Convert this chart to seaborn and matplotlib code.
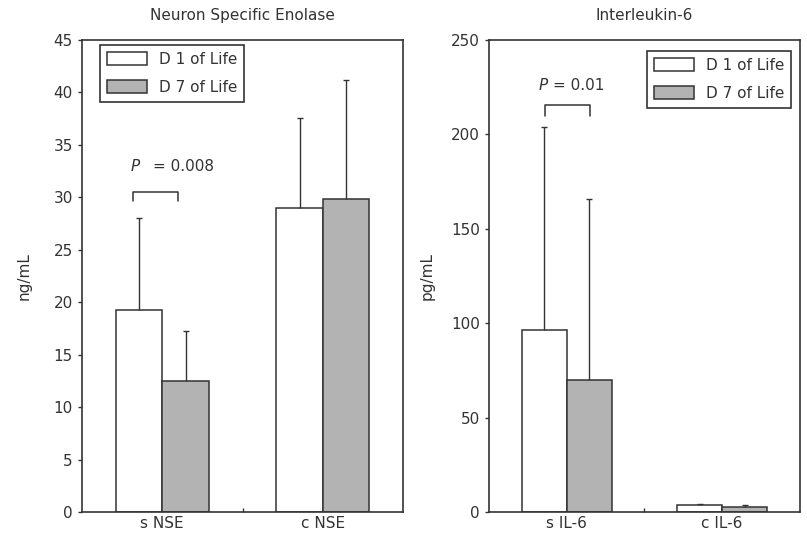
import matplotlib
matplotlib.use("Agg")
import matplotlib.pyplot as plt
import seaborn as sns
import pandas as pd

sns.set_theme(style="white")
plt.rcParams['font.family'] = ['DejaVu Sans']

days = ["D 1 of Life", "D 7 of Life"]

nse_groups = ["s NSE", "c NSE"]
nse_mean_d1 = [19.3, 29.0]
nse_mean_d7 = [12.5, 29.8]
nse_sd_d1 = [8.7, 8.6]
nse_sd_d7 = [4.8, 11.4]

il6_groups = ["s IL-6", "c IL-6"]
il6_mean_d1 = [96.5, 3.5]
il6_mean_d7 = [70.0, 2.5]
il6_sd_d1 = [107.5, 1.0]
il6_sd_d7 = [95.5, 1.2]

ink = "#333333"
gray = "#b3b3b3"
fs = 11


def make_df(groups, m1, m7):
    rows = []
    for g, a, b in zip(groups, m1, m7):
        rows.append({"marker": g, "day": days[0], "mean": a})
        rows.append({"marker": g, "day": days[1], "mean": b})
    return pd.DataFrame(rows)


def panel(ax, groups, m1, m7, s1, s7, ymax, step, title, ylabel, legend_loc, lpad):
    df = make_df(groups, m1, m7)
    sns.barplot(data=df, x="marker", y="mean", hue="day", hue_order=days,
                palette=["white", gray], edgecolor=ink, linewidth=1.1,
                width=0.58, errorbar=None, ax=ax)
    for cont, sd in zip(ax.containers, [s1, s7]):
        xs = [p.get_x() + p.get_width() / 2 for p in cont.patches]
        ys = [p.get_height() for p in cont.patches]
        eb = ax.errorbar(xs, ys, yerr=[[0] * len(sd), sd], fmt="none",
                         ecolor=ink, elinewidth=1.0, capsize=2.5, capthick=1.0)
        eb[1][0].set_visible(False)
    ax.set_xlim(-0.5, 1.5)
    ax.set_ylim(0, ymax)
    ax.set_yticks(range(0, ymax + 1, step))
    ax.set_xticks([0, 1])
    ax.set_xticks([0.5], minor=True)
    ax.tick_params(axis="x", which="major", length=0, labelsize=fs, colors=ink, pad=3)
    ax.tick_params(axis="x", which="minor", length=3, color=ink, direction="in",
                   bottom=True, width=1.0)
    ax.tick_params(axis="y", length=3, color=ink, labelsize=fs, labelcolor=ink,
                   direction="out", left=True, width=1.0)
    ax.set_xlabel("")
    ax.set_ylabel(ylabel, fontsize=fs, color=ink, labelpad=lpad)
    ax.set_title(title, fontsize=fs, color=ink, pad=14)
    for sp in ax.spines.values():
        sp.set_color(ink)
        sp.set_linewidth(1.2)
    ax.legend(loc=legend_loc, fontsize=fs, frameon=True, fancybox=False,
              edgecolor=ink, framealpha=1, handlelength=2.6, handleheight=0.9,
              borderpad=0.45, labelspacing=0.85, handletextpad=0.8,
              labelcolor=ink)
    ax.get_legend().get_frame().set_linewidth(1.2)
    return ax


fig = plt.figure(figsize=(8.07, 5.39), dpi=100)
ax1 = fig.add_axes([0.1016, 0.050, 0.398, 0.876])
ax2 = fig.add_axes([0.606, 0.050, 0.385, 0.876])

panel(ax1, nse_groups, nse_mean_d1, nse_mean_d7, nse_sd_d1, nse_sd_d7,
      45, 5, "Neuron Specific Enolase", "ng/mL", "upper left", 16)
panel(ax2, il6_groups, il6_mean_d1, il6_mean_d7, il6_sd_d1, il6_sd_d7,
      250, 50, "Interleukin-6", "pg/mL", "upper right", 12)
ax1.get_legend().set_bbox_to_anchor((0.032, 1.005))
ax2.get_legend().set_bbox_to_anchor((0.998, 0.993))

# significance brackets
ax1.plot([-0.18, -0.18, 0.1, 0.1], [29.6, 30.5, 30.5, 29.6], color=ink, lw=1.1)
ax1.text(-0.2, 32.9, "P", style="italic", fontsize=fs, color=ink, va="center")
ax1.text(-0.06, 32.9, "= 0.008", fontsize=fs, color=ink, va="center")
ax2.plot([-0.14, -0.14, 0.15, 0.15], [209.5, 215.5, 215.5, 209.5], color=ink, lw=1.1)
ax2.text(-0.18, 226, "P", style="italic", fontsize=fs, color=ink, va="center")
ax2.text(-0.09, 226, "= 0.01", fontsize=fs, color=ink, va="center")

fig.savefig("out.png", dpi=100)
